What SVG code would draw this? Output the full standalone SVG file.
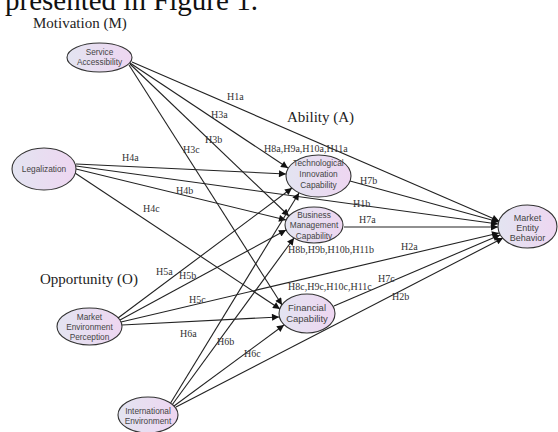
<svg xmlns="http://www.w3.org/2000/svg" width="558" height="432" viewBox="0 0 558 432">
<defs>
<linearGradient id="g" x1="0" y1="0" x2="1" y2="0">
<stop offset="0" stop-color="#e3e4f1"/>
<stop offset="1" stop-color="#eed6f1"/>
</linearGradient>
<marker id="ah" viewBox="0 0 10 10" refX="10" refY="5" markerWidth="9" markerHeight="7" markerUnits="userSpaceOnUse" orient="auto">
<path d="M0,0 L10,5 L0,10 z" fill="#111"/>
</marker>
</defs>
<style>
.n{fill:url(#g);stroke:#333;stroke-width:1.1}
.t{font-family:"Liberation Sans",Arial,sans-serif;font-size:8.3px;fill:#444;text-anchor:middle}
.e line{stroke:#222;stroke-width:1.1;marker-end:url(#ah)}
.l{font-family:"Liberation Serif","Times New Roman",serif;font-size:10px;fill:#333}
.h{font-family:"Liberation Serif","Times New Roman",serif;font-size:15px;fill:#222}
</style>
<rect width="558" height="432" fill="#fff"/>
<text x="5" y="10" font-family="Liberation Serif, Times New Roman, serif" font-size="29" fill="#111">presented in Figure 1.</text>
<text class="h" x="33" y="28" font-size="14.5">Motivation (M)</text>
<text class="h" x="287" y="122" font-size="16">Ability (A)</text>
<text class="h" x="40" y="284" font-size="16">Opportunity (O)</text>

<g id="connectors" class="e">
<line x1="132" y1="62" x2="499" y2="221"/>
<line x1="130" y1="63" x2="288" y2="168"/>
<line x1="130" y1="64" x2="289" y2="216"/>
<line x1="129" y1="65" x2="282" y2="305"/>
<line x1="76" y1="164" x2="286" y2="174"/>
<line x1="76" y1="166" x2="498" y2="224"/>
<line x1="76" y1="169" x2="286" y2="220"/>
<line x1="75" y1="173" x2="280" y2="309"/>
<line x1="118" y1="318" x2="292" y2="188"/>
<line x1="120" y1="320" x2="286" y2="230"/>
<line x1="121" y1="322" x2="499" y2="233"/>
<line x1="122" y1="325" x2="279" y2="317"/>
<line x1="170" y1="404" x2="299" y2="193"/>
<line x1="172" y1="405" x2="294" y2="238"/>
<line x1="174" y1="406" x2="284" y2="325"/>
<line x1="176" y1="407" x2="503" y2="238"/>
<line x1="350" y1="181" x2="499" y2="222"/>
<line x1="344" y1="227" x2="498" y2="227"/>
<line x1="334" y1="306" x2="500" y2="235"/>
</g>

<g id="labels">
<text class="l" x="227" y="100">H1a</text>
<text class="l" x="211" y="118">H3a</text>
<text class="l" x="205" y="143">H3b</text>
<text class="l" x="183" y="153">H3c</text>
<text class="l" x="264" y="152">H8a,H9a,H10a,H11a</text>
<text class="l" x="122" y="161">H4a</text>
<text class="l" x="176" y="194">H4b</text>
<text class="l" x="143" y="212">H4c</text>
<text class="l" x="360" y="184">H7b</text>
<text class="l" x="353" y="207">H1b</text>
<text class="l" x="359" y="223">H7a</text>
<text class="l" x="288" y="253">H8b,H9b,H10b,H11b</text>
<text class="l" x="401" y="250">H2a</text>
<text class="l" x="156" y="275">H5a</text>
<text class="l" x="179" y="279">H5b</text>
<text class="l" x="378" y="282">H7c</text>
<text class="l" x="288" y="290">H8c,H9c,H10c,H11c</text>
<text class="l" x="392" y="300">H2b</text>
<text class="l" x="189" y="303">H5c</text>
<text class="l" x="180" y="337">H6a</text>
<text class="l" x="217" y="345">H6b</text>
<text class="l" x="244" y="357">H6c</text>
</g>

<g id="service-accessibility">
<ellipse class="n" cx="99.5" cy="57.5" rx="32.5" ry="14.5"/>
<text class="t" x="99.5" y="55">Service</text>
<text class="t" x="99.5" y="65">Accessibility</text>
</g>
<g id="legalization">
<ellipse class="n" cx="44" cy="169" rx="32" ry="21"/>
<text class="t" x="44" y="172">Legalization</text>
</g>
<g id="technological-innovation-capability">
<ellipse class="n" cx="318.5" cy="176" rx="32.5" ry="21"/>
<text class="t" x="318.5" y="166">Technological</text>
<text class="t" x="318.5" y="177">Innovation</text>
<text class="t" x="318.5" y="188">Capability</text>
</g>
<g id="business-management-capability">
<ellipse class="n" cx="314" cy="225" rx="29" ry="18"/>
<text class="t" x="314" y="218">Business</text>
<text class="t" x="314" y="228">Management</text>
<text class="t" x="314" y="238.5">Capability</text>
</g>
<g id="financial-capability">
<ellipse class="n" cx="307" cy="313.5" rx="28" ry="19.5"/>
<text class="t" x="307" y="310.5" style="font-size:9.5px">Financial</text>
<text class="t" x="307" y="322" style="font-size:9.5px">Capability</text>
</g>
<g id="market-entity-behavior">
<ellipse class="n" cx="527.5" cy="226.5" rx="29.5" ry="21.5"/>
<text class="t" x="527.5" y="221" style="font-size:9px">Market</text>
<text class="t" x="527.5" y="231" style="font-size:9px">Entity</text>
<text class="t" x="527.5" y="241" style="font-size:9px">Behavior</text>
</g>
<g id="market-environment-perception">
<ellipse class="n" cx="89.5" cy="326.5" rx="32.5" ry="18.5"/>
<text class="t" x="89.5" y="320">Market</text>
<text class="t" x="89.5" y="330">Environment</text>
<text class="t" x="89.5" y="340">Perception</text>
</g>
<g id="international-environment">
<ellipse class="n" cx="148" cy="415" rx="30" ry="18"/>
<text class="t" x="148" y="414">International</text>
<text class="t" x="148" y="424">Environment</text>
</g>
</svg>
